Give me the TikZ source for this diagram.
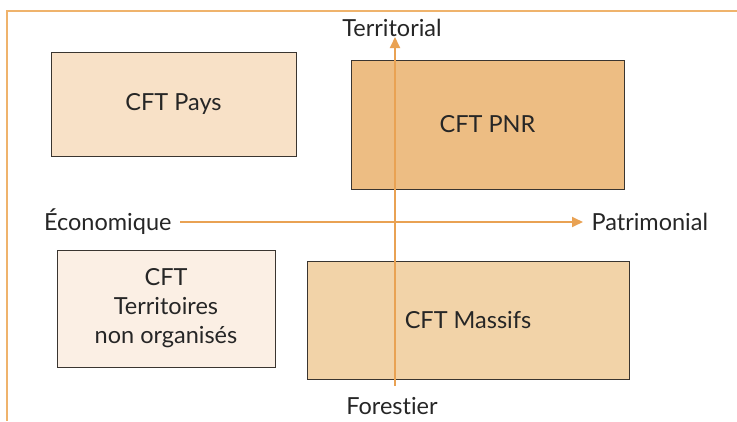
\documentclass[tikz,border=0pt]{standalone}
\usepackage{fontspec}
\setmainfont[Ligatures={NoCommon,NoDiscretionary,NoRare}]{Lato}
\usepackage{tikz}
\usetikzlibrary{arrows.meta}

\definecolor{frameor}{HTML}{EFB36C}
\definecolor{axisor}{HTML}{E9A253}
\definecolor{boxline}{HTML}{3A3530}
\definecolor{fpays}{HTML}{F8E1C7}
\definecolor{fpnr}{HTML}{EDBD83}
\definecolor{fterr}{HTML}{FBEFE4}
\definecolor{fmassif}{HTML}{F2D3A8}

\tikzset{
  cftbox/.style={draw=boxline, line width=1pt, align=center, text=black!85,
                 font=\fontsize{23.5}{29}\selectfont},
  axislabel/.style={text=black!85, font=\fontsize{23.5}{29}\selectfont},
  axisline/.style={axisor, line width=1.8pt, -{Triangle[length=11pt,width=10pt]}}
}

\begin{document}
\begin{tikzpicture}[x=1pt,y=-1pt]
    \useasboundingbox (0,0) rectangle (737,421);
    % cadre
    \draw[frameor, line width=1.8pt] (737,11) -- (7,11) -- (7,421);
    % boites
    \node[cftbox, fill=fpays, minimum width=245pt, minimum height=104pt] (pays) at (173.5,104) {CFT Pays};
    \node[cftbox, fill=fpnr, minimum width=273pt, minimum height=129pt] (pnr) at (487.5,124.5) {CFT PNR};
    \node[cftbox, fill=fterr, minimum width=218pt, minimum height=117pt] (terr) at (166,308.5) {CFT\\Territoires\\non organis\'es};
    \node[cftbox, fill=fmassif, minimum width=322pt, minimum height=118pt] (massif) at (468,320) {CFT Massifs};
    % axes
    \node[axislabel] (territorial) at (392,28) {Territorial};
    \node[axislabel] (forestier) at (392,406) {Forestier};
    \node[axislabel, anchor=east] (eco) at (175,222) {\'Economique};
    \node[axislabel, anchor=west] (patri) at (588,222) {Patrimonial};
    \coordinate (vbot) at (395,386);
    \coordinate (vtop) at (395,37);
    \draw[axisline] (vbot) -- (vtop);
    \draw[axisline, shorten <=5pt, shorten >=5pt] (eco.east) -- (patri.west);
\end{tikzpicture}
\end{document}
